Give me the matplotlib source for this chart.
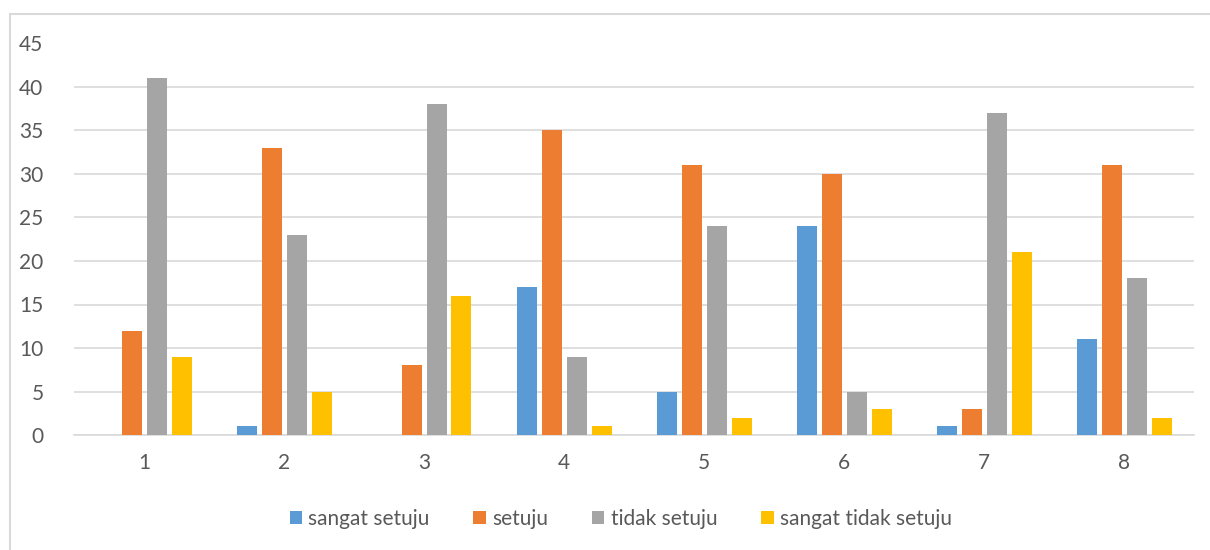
import numpy as np
import matplotlib.pyplot as plt
from matplotlib.patches import Rectangle

categories = ['1', '2', '3', '4', '5', '6', '7', '8']
sangat_setuju = [0, 1, 0, 17, 5, 24, 1, 11]
setuju = [12, 33, 8, 35, 31, 30, 3, 31]
tidak_setuju = [41, 23, 38, 9, 24, 5, 37, 18]
sangat_tidak_setuju = [9, 5, 16, 1, 2, 3, 21, 2]

series_names = ['sangat setuju', 'setuju', 'tidak setuju', 'sangat tidak setuju']
colors = ['#5B9BD5', '#ED7D31', '#A5A5A5', '#FFC000']

plt.rcParams['font.family'] = ['Lato', 'DejaVu Sans']

fig = plt.figure(figsize=(12.1, 5.5), dpi=100)
ax = fig.add_axes([74 / 1210, 1 - 435 / 550, 1120 / 1210, (435 - 43.5) / 550])

# outer chart border
fig.patches.append(Rectangle((10 / 1210, -0.05), 1.0, 1 - 14 / 550 + 0.05,
                             transform=fig.transFigure, fill=False,
                             edgecolor='#d9d9d9', linewidth=1.5))

x = np.arange(len(categories))
step = 25 / 140
width = 20 / 140
data = [sangat_setuju, setuju, tidak_setuju, sangat_tidak_setuju]
for i, (vals, name, c) in enumerate(zip(data, series_names, colors)):
    ax.bar(x + (i - 1.5) * step, vals, width, color=c, label=name, zorder=3)

ax.set_xlim(-0.5, len(categories) - 0.5)
ax.set_ylim(0, 45)
ax.set_yticks(range(0, 46, 5))
ax.set_xticks(x)
ax.set_xticklabels(categories)
ax.grid(axis='y', color='#d9d9d9', linewidth=1.2, zorder=0)
for s in ['top', 'right', 'left']:
    ax.spines[s].set_visible(False)
ax.spines['bottom'].set_color('#d9d9d9')
ax.spines['bottom'].set_linewidth(1.2)
ax.tick_params(axis='both', length=0, labelsize=15, colors='#595959')
ax.tick_params(axis='y', pad=22)
ax.tick_params(axis='x', pad=13)

fig.legend(loc='center', bbox_to_anchor=(0.513, 1 - 519 / 550), ncol=4, frameon=False,
           fontsize=15, handlelength=0.6, handleheight=0.6, handletextpad=0.3,
           columnspacing=2.1, labelcolor='#595959')

fig.savefig('out.png', dpi=100)
